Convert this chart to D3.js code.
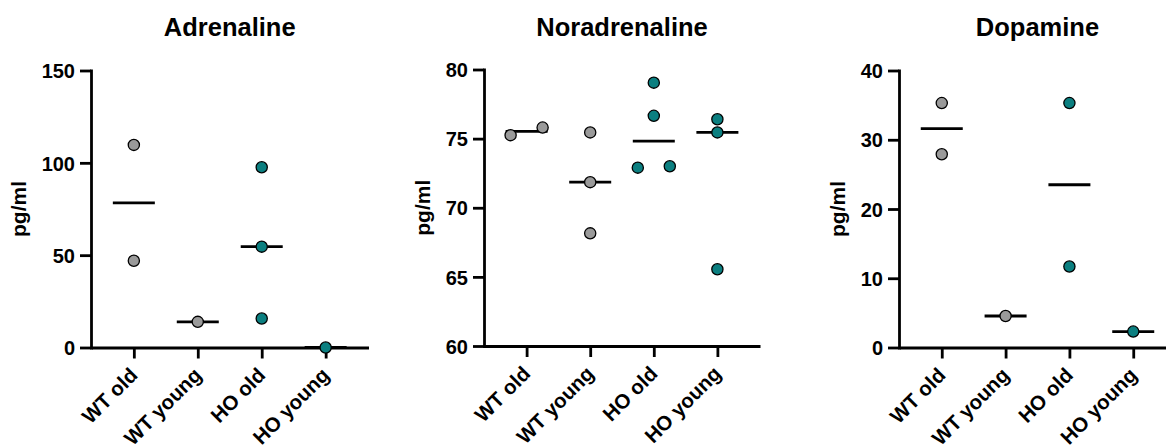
<!DOCTYPE html>
<html><head><meta charset="utf-8">
<script src="https://cdn.jsdelivr.net/npm/d3@7"></script>
<style>
body{margin:0;background:#fff}
svg{display:block}
text{font-family:"Liberation Sans",Arial,Helvetica,sans-serif;font-weight:bold;fill:#000}
</style>
</head><body>
<svg id="chart" width="1166" height="447"></svg>
<script>
// ---------------- data ----------------
const categories = ["WT old", "WT young", "HO old", "HO young"];
const groupColors = ["#9a9a9a", "#9a9a9a", "#0b7f80", "#0b7f80"];
const titles = ["Adrenaline", "Noradrenaline", "Dopamine"];
const yLabel = "pg/ml";

const adrenaline = [[109.7, 47.0], [13.9], [97.6, 54.6, 15.7], [0]];
const noradrenaline = [[75.25, 75.8], [75.45, 71.85, 68.15], [79.05, 76.65, 72.9, 73.0], [76.4, 75.45, 65.55]];
const dopamine = [[35.3, 27.9], [4.55], [35.3, 11.7], [2.3]];

const adrenalineTicks = [0, 50, 100, 150];
const noradrenalineTicks = [60, 65, 70, 75, 80];
const dopamineTicks = [0, 10, 20, 30, 40];

const adrenalineDomain = [0, 150];
const noradrenalineDomain = [60, 80];
const dopamineDomain = [0, 40];

// ---------------- layout ----------------
const panels = [
  {title: titles[0], values: adrenaline, ticks: adrenalineTicks, domain: adrenalineDomain, axisX: 91, xEnd: 368.5, top: 70.5, bottom: 347.5},
  {title: titles[1], values: noradrenaline, ticks: noradrenalineTicks, domain: noradrenalineDomain, axisX: 484, xEnd: 760, top: 69.5, bottom: 346},
  {title: titles[2], values: dopamine, ticks: dopamineTicks, domain: dopamineDomain, axisX: 899, xEnd: 1176, top: 70.5, bottom: 347.5}
];

const svg = d3.select("#chart");
const R = 5.6, LW = 2.8, medianHalf = 21, jitter = 16;

panels.forEach(p => {
  const g = svg.append("g");
  const x = d3.scalePoint().domain(categories).range([p.axisX, p.xEnd]).padding(0.67);
  const y = d3.scaleLinear().domain(p.domain).range([p.bottom, p.top]);

  // y axis
  const ya = g.append("g").attr("transform", `translate(${p.axisX},0)`)
    .call(d3.axisLeft(y).tickValues(p.ticks).tickSize(11).tickSizeOuter(0).tickPadding(5).tickFormat(d3.format("d")));
  ya.select(".domain").attr("stroke-width", LW).attr("stroke-linecap", "square");
  ya.selectAll(".tick line").attr("stroke-width", LW);
  ya.selectAll(".tick text").style("font-size", "20px").attr("dy", "0.36em");

  // x axis
  const xa = g.append("g").attr("transform", `translate(0,${p.bottom})`)
    .call(d3.axisBottom(x).tickSize(11).tickSizeOuter(0));
  xa.select(".domain").attr("stroke-width", LW);
  xa.selectAll(".tick line").attr("stroke-width", LW);
  xa.selectAll(".tick text")
    .style("font-size", "20.5px")
    .attr("x", 0).attr("y", 0).attr("dy", 0)
    .attr("text-anchor", "end")
    .attr("transform", "translate(4.5,29) rotate(-45)");

  // title
  g.append("text").attr("x", (p.axisX + p.xEnd) / 2).attr("y", 36)
    .attr("text-anchor", "middle").style("font-size", "25.5px").text(p.title);

  // y label, placed left of the widest tick label
  const bb = ya.node().getBBox();
  g.append("text")
    .attr("transform", `translate(${p.axisX + bb.x - 16},${(p.top + p.bottom) / 2}) rotate(-90)`)
    .attr("text-anchor", "middle").style("font-size", "21px").text(yLabel);

  // medians
  categories.forEach((c, i) => {
    const m = d3.median(p.values[i]);
    g.append("line")
      .attr("x1", x(c) - medianHalf).attr("x2", x(c) + medianHalf)
      .attr("y1", y(m)).attr("y2", y(m))
      .attr("stroke", "#000").attr("stroke-width", LW);
  });

  // points with simple overlap spreading
  categories.forEach((c, i) => {
    const vals = p.values[i].slice().sort((a, b) => a - b);
    const pts = vals.map(v => ({v, py: y(v), dx: 0}));
    for (let k = 0; k < pts.length - 1; k++) {
      if (Math.abs(pts[k].py - pts[k + 1].py) < 2 * R && pts[k].dx === 0) {
        pts[k].dx = -jitter; pts[k + 1].dx = jitter; k++;
      }
    }
    g.selectAll(null).data(pts).enter().append("circle")
      .attr("cx", d => x(c) + d.dx).attr("cy", d => d.py).attr("r", R)
      .attr("fill", groupColors[i]).attr("stroke", "#000").attr("stroke-width", 1.3);
  });
});
</script>
</body></html>
